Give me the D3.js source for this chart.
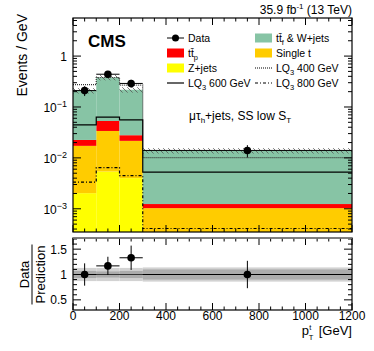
<!DOCTYPE html>
<html>
<head>
<meta charset="utf-8">
<script src="https://cdn.jsdelivr.net/npm/d3@7.9.0/dist/d3.min.js"></script>
<style>
  body { margin: 0; background: #fff; }
  svg { font-family: "Liberation Sans", Arial, sans-serif; }
</style>
</head>
<body>
<svg id="chart" width="374" height="351"></svg>
<script>
// bin edges in pT (GeV)
const binEdges = [0, 100, 200, 300, 1200];

// stacked backgrounds, events / GeV (bottom to top)
const zJets   = [0.00203, 0.0054, 0.0040, 0.00034];
const singleT = [0.0152, 0.0284, 0.0176, 0.00069];
const ttP     = [0.0053, 0.0193, 0.0063, 0.00021];
const ttFW    = [0.1865, 0.327, 0.190, 0.0126];
const bkgUnc  = [0.12, 0.12, 0.12, 0.12];

// signal lines
const lq400 = [0.274, 0.38, 0.27, 0.0101];
const lq600 = [0.0444, 0.063, 0.0556, 0.00525];
const lq800 = [0.00334, 0.00645, 0.0045, 0.00041];

// data
const dataX   = [50, 150, 250, 750];
const dataY   = [0.21, 0.44, 0.29, 0.014];
const dataErr = [0.046, 0.07, 0.052, 0.0038];

// ratio panel
const ratioY    = [1.0, 1.17, 1.33, 1.0];
const ratioErr  = [0.22, 0.18, 0.24, 0.27];
const bandOuter = [0.13, 0.13, 0.13, 0.14];
const bandInner = [0.07, 0.06, 0.07, 0.10];

const xTicks = [0, 200, 400, 600, 800, 1000, 1200];
const ratioTicks = [0.5, 1, 1.5];

const colors = { z: '#ffff00', st: '#ffcc00', ttp: '#ff0000', ttf: '#87c4a5' };

const svg = d3.select('#chart');
const L = 73, R = 352;
const mainTop = 18, mainBot = 232;
const ratTop = 238, ratBot = 310;

const x = d3.scaleLinear().domain([0, 1200]).range([L, R]);
const y = d3.scaleLog().domain([3.5e-4, 5.6]).range([mainBot, mainTop]).clamp(true);
const yr = d3.scaleLinear().domain([0.3, 1.72]).range([ratBot, ratTop]);

const defs = svg.append('defs');
defs.append('clipPath').attr('id', 'clipMain')
  .append('rect').attr('x', L).attr('y', mainTop).attr('width', R - L).attr('height', mainBot - mainTop);
defs.append('clipPath').attr('id', 'clipRat')
  .append('rect').attr('x', L).attr('y', ratTop).attr('width', R - L).attr('height', ratBot - ratTop);
const hatch = defs.append('pattern').attr('id', 'hatch')
  .attr('patternUnits', 'userSpaceOnUse').attr('width', 5).attr('height', 5);
hatch.append('path').attr('d', 'M-1,-1 L6,6 M-1,4 L1,6 M4,-1 L6,1')
  .attr('stroke', '#555').attr('stroke-width', 0.8);

// build stack table
const bins = d3.range(4).map(i => ({
  i, x0: binEdges[i], x1: binEdges[i + 1],
  z: zJets[i], st: singleT[i], ttp: ttP[i], ttf: ttFW[i]
}));
const keys = ['z', 'st', 'ttp', 'ttf'];
const stack = d3.stack().keys(keys)(bins);

const gMain = svg.append('g').attr('clip-path', 'url(#clipMain)');

stack.forEach(layer => {
  gMain.selectAll(null)
    .data(layer)
    .join('rect')
    .attr('x', d => x(d.data.x0))
    .attr('width', d => x(d.data.x1) - x(d.data.x0))
    .attr('y', d => y(d[1]))
    .attr('height', d => y(Math.max(d[0], 1e-6)) - y(d[1]))
    .attr('fill', colors[layer.key]);
});

// uncertainty hatch on top of stack
const totals = bins.map(b => b.z + b.st + b.ttp + b.ttf);
gMain.selectAll('rect.unc')
  .data(bins)
  .join('rect')
  .attr('class', 'unc')
  .attr('x', d => x(d.x0))
  .attr('width', d => x(d.x1) - x(d.x0))
  .attr('y', d => y(totals[d.i] * (1 + bkgUnc[d.i])))
  .attr('height', d => y(totals[d.i] * (1 - bkgUnc[d.i])) - y(totals[d.i] * (1 + bkgUnc[d.i])))
  .attr('fill', 'url(#hatch)');

// step lines for signals
function stepPts(vals) {
  const pts = vals.map((v, i) => [binEdges[i], v]);
  pts.push([binEdges[binEdges.length - 1], vals[vals.length - 1]]);
  return pts;
}
const stepLine = d3.line().x(d => x(d[0])).y(d => y(d[1])).curve(d3.curveStepAfter);

gMain.append('path').attr('d', stepLine(stepPts(lq400)))
  .attr('fill', 'none').attr('stroke', '#333').attr('stroke-width', 1.2).attr('stroke-dasharray', '1,1');
gMain.append('path').attr('d', stepLine(stepPts(lq600)))
  .attr('fill', 'none').attr('stroke', '#000').attr('stroke-width', 1.2);
gMain.append('path').attr('d', stepLine(stepPts(lq800)))
  .attr('fill', 'none').attr('stroke', '#000').attr('stroke-width', 1.2).attr('stroke-dasharray', '3,2,1,2');

// data points in main panel
const gData = svg.append('g').attr('clip-path', 'url(#clipMain)');
dataX.forEach((dx, i) => {
  gData.append('line')
    .attr('x1', x(binEdges[i])).attr('x2', x(binEdges[i + 1]))
    .attr('y1', y(dataY[i])).attr('y2', y(dataY[i]))
    .attr('stroke', '#000').attr('stroke-width', 1);
  gData.append('line')
    .attr('x1', x(dx)).attr('x2', x(dx))
    .attr('y1', y(dataY[i] - dataErr[i])).attr('y2', y(dataY[i] + dataErr[i]))
    .attr('stroke', '#000').attr('stroke-width', 1);
  gData.append('circle').attr('cx', x(dx)).attr('cy', y(dataY[i])).attr('r', 3.8).attr('fill', '#000');
});

// ---- ratio panel
const gRat = svg.append('g').attr('clip-path', 'url(#clipRat)');
gRat.selectAll('rect.outer').data(bins).join('rect')
  .attr('x', d => x(d.x0)).attr('width', d => x(d.x1) - x(d.x0))
  .attr('y', d => yr(1 + bandOuter[d.i]))
  .attr('height', d => yr(1 - bandOuter[d.i]) - yr(1 + bandOuter[d.i]))
  .attr('fill', '#d2d2d2');
gRat.selectAll('rect.inner').data(bins).join('rect')
  .attr('x', d => x(d.x0)).attr('width', d => x(d.x1) - x(d.x0))
  .attr('y', d => yr(1 + bandInner[d.i]))
  .attr('height', d => yr(1 - bandInner[d.i]) - yr(1 + bandInner[d.i]))
  .attr('fill', '#acacac');
gRat.append('line').attr('x1', L).attr('x2', R).attr('y1', yr(1)).attr('y2', yr(1))
  .attr('stroke', '#333').attr('stroke-width', 1);
dataX.forEach((dx, i) => {
  gRat.append('line')
    .attr('x1', x(binEdges[i])).attr('x2', x(binEdges[i + 1]))
    .attr('y1', yr(ratioY[i])).attr('y2', yr(ratioY[i]))
    .attr('stroke', '#000').attr('stroke-width', 1);
  gRat.append('line')
    .attr('x1', x(dx)).attr('x2', x(dx))
    .attr('y1', yr(ratioY[i] - ratioErr[i])).attr('y2', yr(ratioY[i] + ratioErr[i]))
    .attr('stroke', '#000').attr('stroke-width', 1);
  gRat.append('circle').attr('cx', x(dx)).attr('cy', yr(ratioY[i])).attr('r', 3.8).attr('fill', '#000');
});

// ---- ticks (inward, ROOT style)
const xMinor = d3.range(0, 1201, 50).filter(v => v % 200 !== 0);
function xTickMarks(yBase, dir) {
  const g = svg.append('g');
  xTicks.forEach(v => g.append('line').attr('x1', x(v)).attr('x2', x(v))
    .attr('y1', yBase).attr('y2', yBase + dir * 7).attr('stroke', '#000'));
  xMinor.forEach(v => g.append('line').attr('x1', x(v)).attr('x2', x(v))
    .attr('y1', yBase).attr('y2', yBase + dir * 3.5).attr('stroke', '#000'));
}
xTickMarks(mainBot, -1);
xTickMarks(mainTop, 1);
xTickMarks(ratBot, -1);
xTickMarks(ratTop, 1);

const logMajor = [1e-3, 1e-2, 1e-1, 1];
const logMinor = [];
[-4, -3, -2, -1, 0].forEach(e => d3.range(2, 10).forEach(k => {
  const v = k * Math.pow(10, e);
  if (v > 3.5e-4 && v < 5.6) logMinor.push(v);
}));
[[L, 1], [R, -1]].forEach(([xb, dir]) => {
  logMajor.forEach(v => svg.append('line').attr('x1', xb).attr('x2', xb + dir * 8)
    .attr('y1', y(v)).attr('y2', y(v)).attr('stroke', '#000'));
  logMinor.forEach(v => svg.append('line').attr('x1', xb).attr('x2', xb + dir * 4)
    .attr('y1', y(v)).attr('y2', y(v)).attr('stroke', '#000'));
  d3.range(0.4, 1.71, 0.1).forEach(v => {
    const major = Math.abs(v * 2 - Math.round(v * 2)) < 1e-6;
    svg.append('line').attr('x1', xb).attr('x2', xb + dir * (major ? 8 : 4))
      .attr('y1', yr(v)).attr('y2', yr(v)).attr('stroke', '#000');
  });
});

// frames
svg.append('rect').attr('x', L).attr('y', mainTop).attr('width', R - L).attr('height', mainBot - mainTop)
  .attr('fill', 'none').attr('stroke', '#000').attr('stroke-width', 1.2);
svg.append('rect').attr('x', L).attr('y', ratTop).attr('width', R - L).attr('height', ratBot - ratTop)
  .attr('fill', 'none').attr('stroke', '#000').attr('stroke-width', 1.2);
svg.append('line').attr('x1', L).attr('x2', R).attr('y1', ratTop).attr('y2', ratTop)
  .attr('stroke', '#888').attr('stroke-width', 1.4);

// tick labels
const labelFont = 12;
xTicks.forEach(v => svg.append('text').attr('x', x(v)).attr('y', 320)
  .attr('text-anchor', 'middle').attr('font-size', labelFont).text(v));
ratioTicks.forEach(v => svg.append('text').attr('x', 67).attr('y', yr(v) + 4.5)
  .attr('text-anchor', 'end').attr('font-size', labelFont).text(v));
logMajor.forEach(v => {
  const t = svg.append('text').attr('x', 67).attr('y', y(v) + 5)
    .attr('text-anchor', 'end').attr('font-size', labelFont);
  if (v === 1) { t.text('1'); return; }
  t.append('tspan').text('10');
  t.append('tspan').attr('dy', -5).attr('font-size', 9).text('\u2212' + Math.round(-Math.log10(v)));
});

// axis titles
svg.append('text').attr('transform', `translate(27,${mainTop - 4}) rotate(-90)`)
  .attr('text-anchor', 'end').attr('font-size', 14).text('Events / GeV');
const rt = svg.append('g').attr('transform', `translate(0,${yr(1)}) rotate(-90)`);
rt.append('text').attr('x', 0).attr('y', 29).attr('text-anchor', 'middle').attr('font-size', 13).text('Data');
rt.append('line').attr('x1', -30).attr('x2', 30).attr('y1', 32).attr('y2', 32).attr('stroke', '#000');
rt.append('text').attr('x', 0).attr('y', 45).attr('text-anchor', 'middle').attr('font-size', 13).text('Prediction');

// x title: p with sup t and sub T, then [GeV]
const titleY = 335;
const gev = svg.append('text').attr('x', R).attr('y', titleY).attr('text-anchor', 'end')
  .attr('font-size', 13).text('[GeV]');
const gevW = gev.node().getComputedTextLength();
const pX = R - gevW - 4 - 6 - 7;
svg.append('text').attr('x', pX).attr('y', titleY).attr('font-size', 13).text('p');
svg.append('text').attr('x', pX + 7.5).attr('y', titleY - 5).attr('font-size', 7.5).text('t');
svg.append('text').attr('x', pX + 7).attr('y', titleY + 5).attr('font-size', 7.5).text('T');

// header
const hd = svg.append('text').attr('x', R).attr('y', 14).attr('text-anchor', 'end').attr('font-size', 12);
hd.append('tspan').text('35.9 fb');
hd.append('tspan').attr('dy', -5).attr('font-size', 8).text('-1');
hd.append('tspan').attr('dy', 5).text(' (13 TeV)');

svg.append('text').attr('x', 88).attr('y', 47).attr('font-size', 17).attr('font-weight', 'bold').text('CMS');

const ch = svg.append('text').attr('x', 189).attr('y', 120).attr('font-size', 12);
ch.append('tspan').text('\u03bc\u03c4');
ch.append('tspan').attr('dy', 3).attr('font-size', 8).text('h');
ch.append('tspan').attr('dy', -3).text('+jets, SS low S');
ch.append('tspan').attr('dy', 3).attr('font-size', 8).text('T');

// legend
const legFont = 10.5;
function legLabel(g, parts) {
  const t = g.append('text').attr('font-size', legFont);
  let shift = 0;
  parts.forEach(p => {
    const s = t.append('tspan').text(p.t);
    if (p.sub) {
      s.attr('font-size', 7.5).attr('dy', 3 - shift);
      shift = 3;
    } else if (shift) {
      s.attr('dy', -shift);
      shift = 0;
    }
  });
  return t;
}
const legend = [
  { col: 0, row: 0, kind: 'data', label: [{ t: 'Data' }] },
  { col: 0, row: 1, kind: 'box', color: colors.ttp, label: [{ t: 'tt\u0304' }, { t: 'p', sub: true }] },
  { col: 0, row: 2, kind: 'box', color: colors.z, label: [{ t: 'Z+jets' }] },
  { col: 0, row: 3, kind: 'line', dash: null, label: [{ t: 'LQ' }, { t: '3', sub: true }, { t: ' 600 GeV' }] },
  { col: 1, row: 0, kind: 'box', color: colors.ttf, label: [{ t: 'tt\u0304' }, { t: 'f', sub: true }, { t: ' & W+jets' }] },
  { col: 1, row: 1, kind: 'box', color: colors.st, label: [{ t: 'Single t' }] },
  { col: 1, row: 2, kind: 'line', dash: '1,1', label: [{ t: 'LQ' }, { t: '3', sub: true }, { t: ' 400 GeV' }] },
  { col: 1, row: 3, kind: 'line', dash: '3,2,1,2', label: [{ t: 'LQ' }, { t: '3', sub: true }, { t: ' 800 GeV' }] }
];
const colX = [167, 255];
const rowY = [38, 53, 68, 83];
legend.forEach(e => {
  const g = svg.append('g').attr('transform', `translate(${colX[e.col]},${rowY[e.row]})`);
  if (e.kind === 'box') {
    g.append('rect').attr('x', 0).attr('y', -4.5).attr('width', 17).attr('height', 9).attr('fill', e.color);
  } else if (e.kind === 'line') {
    g.append('line').attr('x1', 0).attr('x2', 17).attr('y1', 0).attr('y2', 0)
      .attr('stroke', '#000').attr('stroke-width', 1.2).attr('stroke-dasharray', e.dash);
  } else {
    g.append('line').attr('x1', 0).attr('x2', 17).attr('y1', 0).attr('y2', 0).attr('stroke', '#000');
    g.append('circle').attr('cx', 8.5).attr('cy', 0).attr('r', 3.5).attr('fill', '#000');
  }
  legLabel(g, e.label).attr('x', 21).attr('y', 4);
});
</script>
</body>
</html>
